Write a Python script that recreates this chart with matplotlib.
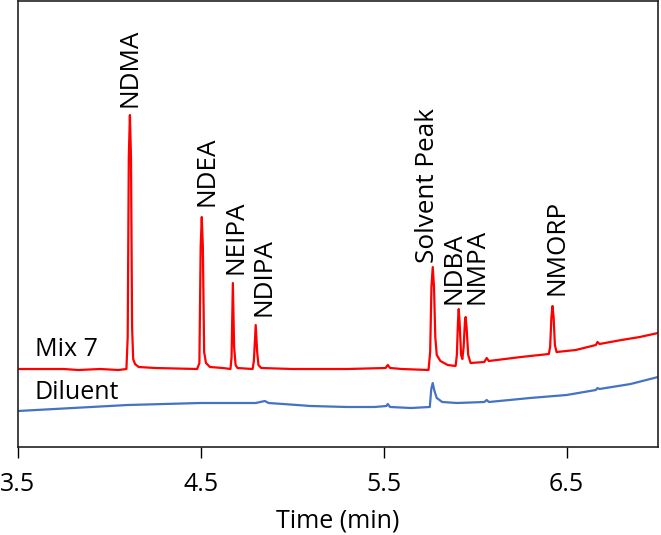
import matplotlib.pyplot as plt

plt.rcParams['font.family'] = ['Open Sans', 'DejaVu Sans']

# Mix 7 trace: retention time (min) and detector signal (a.u.)
mix7_time = [3.50, 3.75, 3.83, 3.95, 4.05, 4.093, 4.100, 4.106, 4.112, 4.118, 4.124, 4.130, 4.14, 4.16, 4.25,
             4.48, 4.492, 4.499, 4.505, 4.511, 4.518, 4.528, 4.55, 4.62,
             4.662, 4.668, 4.675, 4.682, 4.690, 4.70,
             4.783, 4.790, 4.800, 4.808, 4.815, 4.83,
             5.00, 5.30, 5.51, 5.522, 5.535, 5.60,
             5.745, 5.754, 5.761, 5.768, 5.775, 5.782, 5.79, 5.81, 5.85,
             5.893, 5.900, 5.906, 5.910, 5.915, 5.923, 5.930, 5.937, 5.944, 5.948, 5.953, 5.962, 5.975,
             6.05, 6.063, 6.075, 6.25,
             6.403, 6.410, 6.417, 6.423, 6.429, 6.436, 6.445,
             6.55, 6.66, 6.669, 6.68, 6.80, 6.90, 7.00]
mix7_signal = [78, 78, 77, 78, 77, 78, 110, 290, 332, 290, 120, 88, 83, 80, 79,
               78, 84, 200, 230, 200, 95, 84, 80, 79,
               78, 90, 164, 100, 82, 79,
               78, 86, 122, 95, 82, 79,
               78, 78, 79, 82, 79, 78,
               77, 95, 160, 180, 160, 110, 92, 86, 82,
               81, 92, 125, 138, 125, 92, 88, 100, 125, 130, 120, 92, 84,
               85, 89, 86, 90,
               93, 100, 130, 141, 130, 102, 95,
               97, 102, 105, 103, 107, 110, 114]

# Diluent trace
diluent_time = [3.50, 3.70, 3.90, 4.10, 4.30, 4.50, 4.70, 4.80, 4.850, 4.87, 4.95, 5.10, 5.30,
                5.45, 5.515, 5.522, 5.535, 5.65,
                5.752, 5.760, 5.768, 5.776, 5.79, 5.82, 5.90,
                6.05, 6.063, 6.075, 6.30, 6.50, 6.66, 6.669, 6.68, 6.85, 7.00]
diluent_signal = [36, 38, 40, 42, 43, 44, 44, 44, 46, 44, 43, 41, 40,
                  40, 41, 43, 40, 39,
                  40, 58, 64, 57, 49, 45, 44,
                  45, 47, 45, 49, 52, 57, 59, 58, 63, 70]

# Peak labels
peak_names = ['NDMA', 'NDEA', 'NEIPA', 'NDIPA', 'Solvent Peak', 'NDBA', 'NMPA', 'NMORP']
label_time = [4.114, 4.535, 4.693, 4.846, 5.742, 5.884, 6.010, 6.447]
label_signal = [340, 241, 173, 131, 184, 143, 143, 152]

fig = plt.figure(figsize=(6.61, 5.35), dpi=100)
ax = fig.add_axes([0.0272, 0.1645, 0.9683, 0.8335])

ax.plot(mix7_time, mix7_signal, color='#FF0000', lw=1.6)
ax.plot(diluent_time, diluent_signal, color='#4472C4', lw=1.6)

for name, t, s in zip(peak_names, label_time, label_signal):
    ax.text(t, s, name, rotation=90, ha='center', va='bottom', fontsize=18.8)

ax.text(3.593, 85, 'Mix 7', fontsize=18, ha='left', va='bottom')
ax.text(3.593, 42, 'Diluent', fontsize=18, ha='left', va='bottom')

ax.set_xlim(3.5, 7.0)
ax.set_ylim(0, 446)
ax.set_xticks([3.5, 4.5, 5.5, 6.5])
ax.set_xticklabels(['3.5', '4.5', '5.5', '6.5'])
ax.set_yticks([])
ax.tick_params(axis='x', direction='out', length=8, width=1, labelsize=18, pad=10)
ax.set_xlabel('Time (min)', fontsize=18, labelpad=8)
for sp in ax.spines.values():
    sp.set_linewidth(1.2)
    sp.set_color('#222222')

fig.savefig('out.png', dpi=100)
